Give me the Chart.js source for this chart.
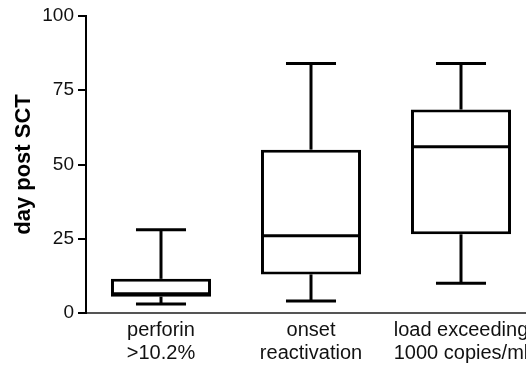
<!DOCTYPE html>
<html>
<head>
<meta charset="utf-8">
<script src="https://cdn.jsdelivr.net/npm/chart.js@4/dist/chart.umd.min.js"></script>
<style>
  html, body { margin: 0; padding: 0; background: #fff; overflow: hidden; }
  #wrap { width: 526px; height: 365px; overflow: hidden; }
</style>
</head>
<body>
<div id="wrap"><canvas id="chart01" width="536" height="365"></canvas></div>
<script>
// box plot values (day post SCT)
const categories = [['perforin', '>10.2%'], ['onset', 'reactivation'], ['load exceeding', '1000 copies/ml']]
const mins = [3, 4, 10]
const q1s = [5.5, 13, 26.5]
const medians = [6.5, 26, 56]
const q3s = [11.5, 55, 68.5]
const maxs = [28, 84, 84]
const yTicks = [0, 25, 50, 75, 100]

const ctx = document.getElementById('chart01').getContext('2d')

// whiskers, caps and median drawn on top of the floating bars
const boxExtras = {
    id: 'boxExtras',
    afterDatasetsDraw(chart) {
        const y = chart.scales.y
        const meta = chart.getDatasetMeta(0)
        const c = chart.ctx
        c.save()
        c.strokeStyle = '#000'
        c.lineWidth = 3
        c.lineCap = 'butt'
        meta.data.forEach((bar, i) => {
            const x = bar.x
            const half = bar.width / 2
            const cap = bar.width / 4
            const line = (x1, y1, x2, y2) => {
                c.beginPath()
                c.moveTo(x1, y1)
                c.lineTo(x2, y2)
                c.stroke()
            }
            // upper whisker
            line(x, y.getPixelForValue(q3s[i]), x, y.getPixelForValue(maxs[i]))
            line(x - cap, y.getPixelForValue(maxs[i]), x + cap, y.getPixelForValue(maxs[i]))
            // lower whisker
            line(x, y.getPixelForValue(q1s[i]), x, y.getPixelForValue(mins[i]))
            line(x - cap, y.getPixelForValue(mins[i]), x + cap, y.getPixelForValue(mins[i]))
            // median
            line(x - half + 1.5, y.getPixelForValue(medians[i]), x + half - 1.5, y.getPixelForValue(medians[i]))
        })
        c.restore()
    }
}

const myChart = new Chart(ctx, {
    type: 'bar',
    data: {
        labels: categories,
        datasets: [{
            data: categories.map((_, i) => [q1s[i], q3s[i]]),
            backgroundColor: '#fff',
            borderColor: '#000',
            borderWidth: 3,
            borderSkipped: false,
            barPercentage: 0.667,
            categoryPercentage: 1
        }]
    },
    options: {
        responsive: false,
        animation: false,
        layout: { padding: { top: 16, left: 0, right: 0, bottom: 0 } },
        plugins: {
            legend: { display: false },
            tooltip: { enabled: false }
        },
        scales: {
            x: {
                offset: true,
                afterFit: (scale) => { scale.height = 52 },
                grid: { display: false, drawTicks: false },
                border: { display: true, color: '#555', width: 2 },
                ticks: {
                    color: '#111',
                    padding: 6,
                    maxRotation: 0,
                    autoSkip: false,
                    font: { family: "'Liberation Sans', Arial, sans-serif", size: 20, lineHeight: 1.16 }
                }
            },
            y: {
                min: 0,
                max: 100,
                afterFit: (scale) => { scale.width = 86 },
                afterBuildTicks: (scale) => { scale.ticks = yTicks.map(v => ({ value: v })) },
                grid: {
                    display: true,
                    drawOnChartArea: false,
                    drawTicks: true,
                    tickLength: 8,
                    color: '#000',
                    lineWidth: 2
                },
                border: { display: true, color: '#000', width: 2 },
                ticks: {
                    color: '#111',
                    padding: 4,
                    font: { family: "'Liberation Sans', Arial, sans-serif", size: 19 }
                },
                title: {
                    display: true,
                    text: 'day post SCT',
                    color: '#000',
                    padding: { top: 11, bottom: 0 },
                    font: { family: "'Liberation Sans', Arial, sans-serif", size: 22, weight: 'bold' }
                }
            }
        }
    },
    plugins: [boxExtras]
});
</script>
</body>
</html>
